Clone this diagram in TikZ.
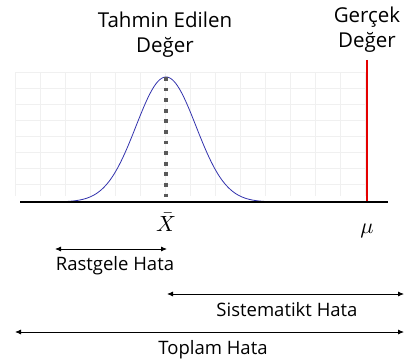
\documentclass[tikz,border=0pt]{standalone}
\usepackage{fontspec}
\setmainfont{Open Sans}
\usetikzlibrary{arrows.meta}
\newcommand{\bigsym}[1]{\scalebox{2.2}{$#1$}}
\tikzset{
  lbl/.style={font=\fontsize{18.5}{21}\selectfont, inner sep=0pt},
  ttl/.style={font=\fontsize{20.5}{25}\selectfont, inner sep=0pt, align=center},
  sym/.style={inner sep=0pt},
  errarrow/.style={{Latex[length=6pt,width=5pt]}-{Latex[length=6pt,width=5pt]}, thick}
}
\begin{document}
\begin{tikzpicture}[x=1pt,y=-1pt]
  \useasboundingbox (0,0) rectangle (404,363);
  % faint background grid
  \draw[black!6, thin, xstep=25pt, ystep=16pt, shift={(15,72)}] (0,0) grid (350,124);
  % distribution
  \draw[blue!60!black!80, thick, domain=65:265, samples=120]
    plot (\x, {202 - 125*exp(-((\x-166)^2)/(2*30^2))});
  \coordinate (peak) at (166,77);
  \coordinate (foot) at (166,200);
  \draw[black!65, line width=4pt, dash pattern=on 3.8pt off 6.8pt] (peak) -- (foot);
  \coordinate (tru) at (367,60);
  \coordinate (trubase) at (367,202);
  \draw[red!90!black, line width=1.3pt] (tru) -- (trubase);
  % axis
  \coordinate (axl) at (20,202);
  \coordinate (axr) at (388,202);
  \draw[line width=2.6pt] (axl) -- (axr);
  % titles
  \node[ttl] (est) at (165,35) {Tahmin Edilen\\Değer};
  \node[ttl] (tv) at (367,30) {Gerçek\\Değer};
  \node[sym] (xbar) at (166,222) {\bigsym{\bar{X}}};
  \node[sym] (mu) at (367,231) {\bigsym{\mu}};
  % errors
  \coordinate (ra) at (55,249);
  \coordinate (rb) at (167,249);
  \draw[errarrow] (ra) -- (rb);
  \node[lbl] (rast) at (115,266) {Rastgele Hata};
  \coordinate (sa) at (167,294);
  \coordinate (sb) at (404,294);
  \draw[errarrow] (sa) -- (sb);
  \node[lbl] (sist) at (287,310) {Sistematikt Hata};
  \coordinate (ta) at (15,332);
  \coordinate (tb) at (404,332);
  \draw[errarrow] (ta) -- (tb);
  \node[lbl] (top) at (213,350) {Toplam Hata};
\end{tikzpicture}
\end{document}
